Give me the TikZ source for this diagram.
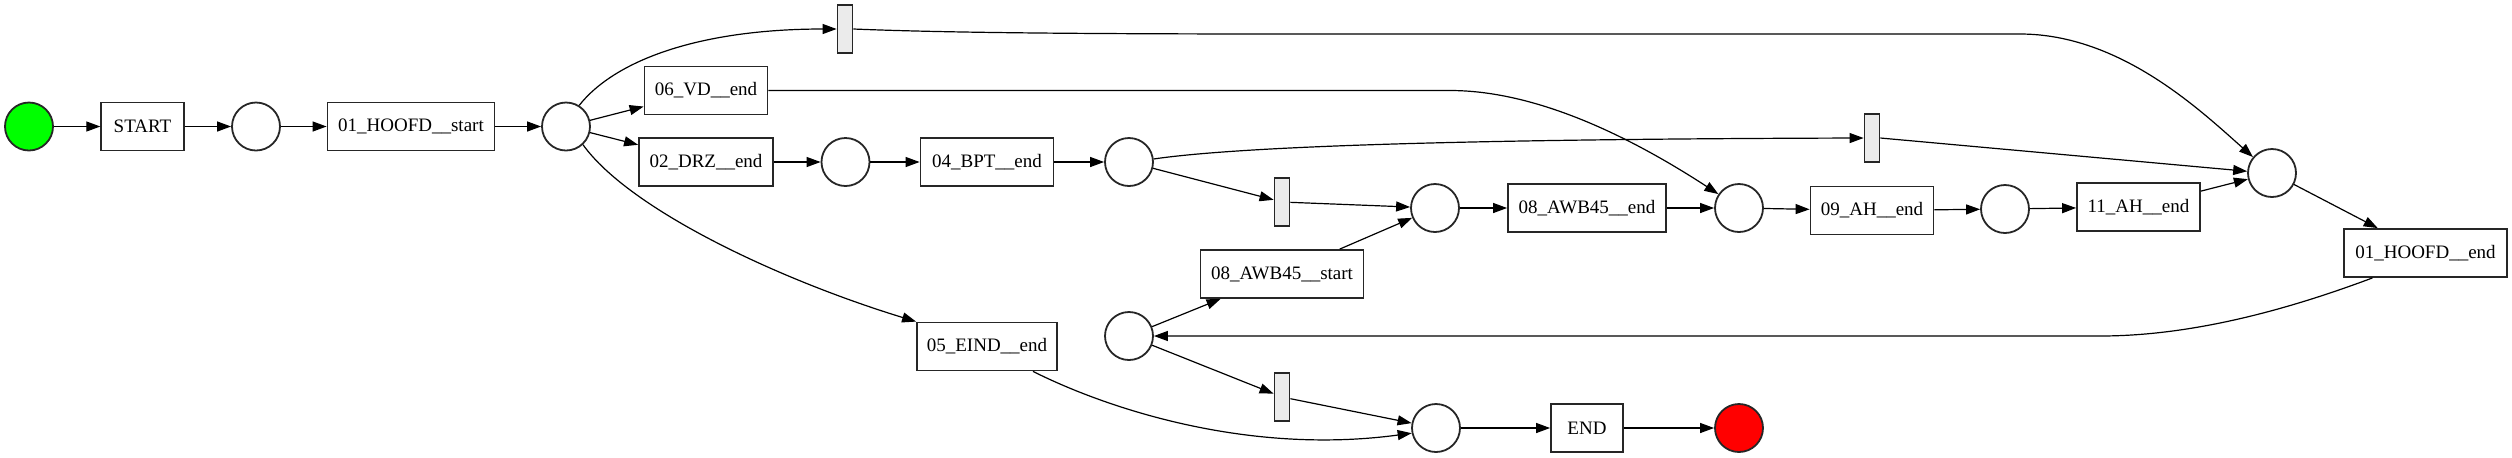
\documentclass[tikz,border=0pt]{standalone}
\usepackage{fontspec}
\setmainfont{Liberation Serif}
\usetikzlibrary{arrows.meta,calc}
\definecolor{tgray}{HTML}{EBEBEB}
\definecolor{startgreen}{HTML}{00FF00}
\definecolor{endred}{HTML}{FF0000}
\begin{document}
\begin{tikzpicture}[x=0.5pt,y=-0.5pt,
  every node/.style={font=\rmfamily\fontsize{9.5}{11}\selectfont, line width=0.9pt, draw=black!85},
  place/.style={draw, circle, fill=white, minimum size=24pt, inner sep=0pt},
  trans/.style={draw, rectangle, fill=white, minimum height=24pt, inner sep=2pt},
  silent/.style={draw, rectangle, fill=tgray, minimum width=7.5pt, minimum height=24pt, inner sep=0pt},
  arc/.style={-{Triangle[length=7pt,width=5pt]}, line width=0.6pt}
]
\useasboundingbox (0,0) rectangle (2512,457);

% places
\node[place, fill=startgreen] (src) at (29,126.5) {};
\node[place] (p1) at (256,126.5) {};
\node[place] (p2) at (566,126.5) {};
\node[place] (p3) at (845.5,162) {};
\node[place] (p4) at (1129,162) {};
\node[place] (p5) at (1435,208) {};
\node[place] (p6) at (1739,208) {};
\node[place] (p7) at (2005,209) {};
\node[place] (p8) at (2272,173) {};
\node[place] (p9) at (1129,336) {};
\node[place] (p10) at (1436,428) {};
\node[place, fill=endred] (snk) at (1739,428) {};

% transitions
\node[trans, minimum width=41.25pt] (start) at (142.5,126.5) {START};
\node[trans, minimum width=83.5pt] (hs) at (411,126.5) {01\_HOOFD\_\_start};
\node[trans, minimum width=61.5pt] (vd) at (706,90.5) {06\_VD\_\_end};
\node[trans, minimum width=67pt] (drz) at (706,162) {02\_DRZ\_\_end};
\node[trans, minimum width=66.5pt] (bpt) at (987,162) {04\_BPT\_\_end};
\node[trans, minimum width=79pt] (awbe) at (1587,208) {08\_AWB45\_\_end};
\node[trans, minimum width=61.5pt] (ahe) at (1872,210.5) {09\_AH\_\_end};
\node[trans, minimum width=61.5pt] (ah11) at (2138.5,207) {11\_AH\_\_end};
\node[trans, minimum width=81.5pt] (he) at (2425.5,253) {01\_HOOFD\_\_end};
\node[trans, minimum width=81.5pt] (awbs) at (1282,274) {08\_AWB45\_\_start};
\node[trans, minimum width=70pt] (eind) at (987,346.5) {05\_EIND\_\_end};
\node[trans, minimum width=36pt] (endt) at (1587,428) {END};

% silent transitions
\node[silent] (t1) at (845,29) {};
\node[silent] (t2) at (1872,138) {};
\node[silent] (t3) at (1282,202) {};
\node[silent] (t4) at (1282,397) {};

% arcs
\draw[arc] (src) -- (start);
\draw[arc] (start) -- (p1);
\draw[arc] (p1) -- (hs);
\draw[arc] (hs) -- (p2);
\draw[arc] (p2.58) .. controls (615,60) and (700,29) .. (t1.west);
\draw[arc] (t1.east) .. controls (950,33) and (1100,34) .. (1300,34) -- (2020,34)
   .. controls (2120,34) and (2200,110) .. (p8.140);
\draw[arc] (p2) -- (vd);
\draw[arc] (vd.east) -- (1450,90.5) .. controls (1530,90.5) and (1620,130) .. (p6.146);
\draw[arc] (p2) -- (drz);
\draw[arc] (p2.313) .. controls (630,210) and (780,280) .. (eind.north west);
\draw[arc] (drz) -- (p3);
\draw[arc] (p3) -- (bpt);
\draw[arc] (bpt) -- (p4);
\draw[arc] (p4.7) .. controls (1250,145) and (1500,139) .. (t2.west);
\draw[arc] (t2.east) -- (p8.176);
\draw[arc] (p4) -- (t3);
\draw[arc] (t3) -- (p5);
\draw[arc] (awbs) -- (p5);
\draw[arc] (p5) -- (awbe);
\draw[arc] (awbe) -- (p6);
\draw[arc] (p6) -- (ahe);
\draw[arc] (ahe) -- (p7);
\draw[arc] (p7) -- (ah11);
\draw[arc] (ah11) -- (p8);
\draw[arc] (p8) -- (he);
\draw[arc] ($(he.south)+(-53,0)$) .. controls (2300,305) and (2200,336) .. (2100,336) -- (p9.east);
\draw[arc] (p9) -- (awbs);
\draw[arc] (p9) -- (t4);
\draw[arc] (t4) -- (p10);
\draw[arc] ($(eind.south)+(46,0)$) .. controls (1110,410) and (1250,455) .. (p10.192);
\draw[arc] (p10) -- (endt);
\draw[arc] (endt) -- (snk);
\end{tikzpicture}
\end{document}
